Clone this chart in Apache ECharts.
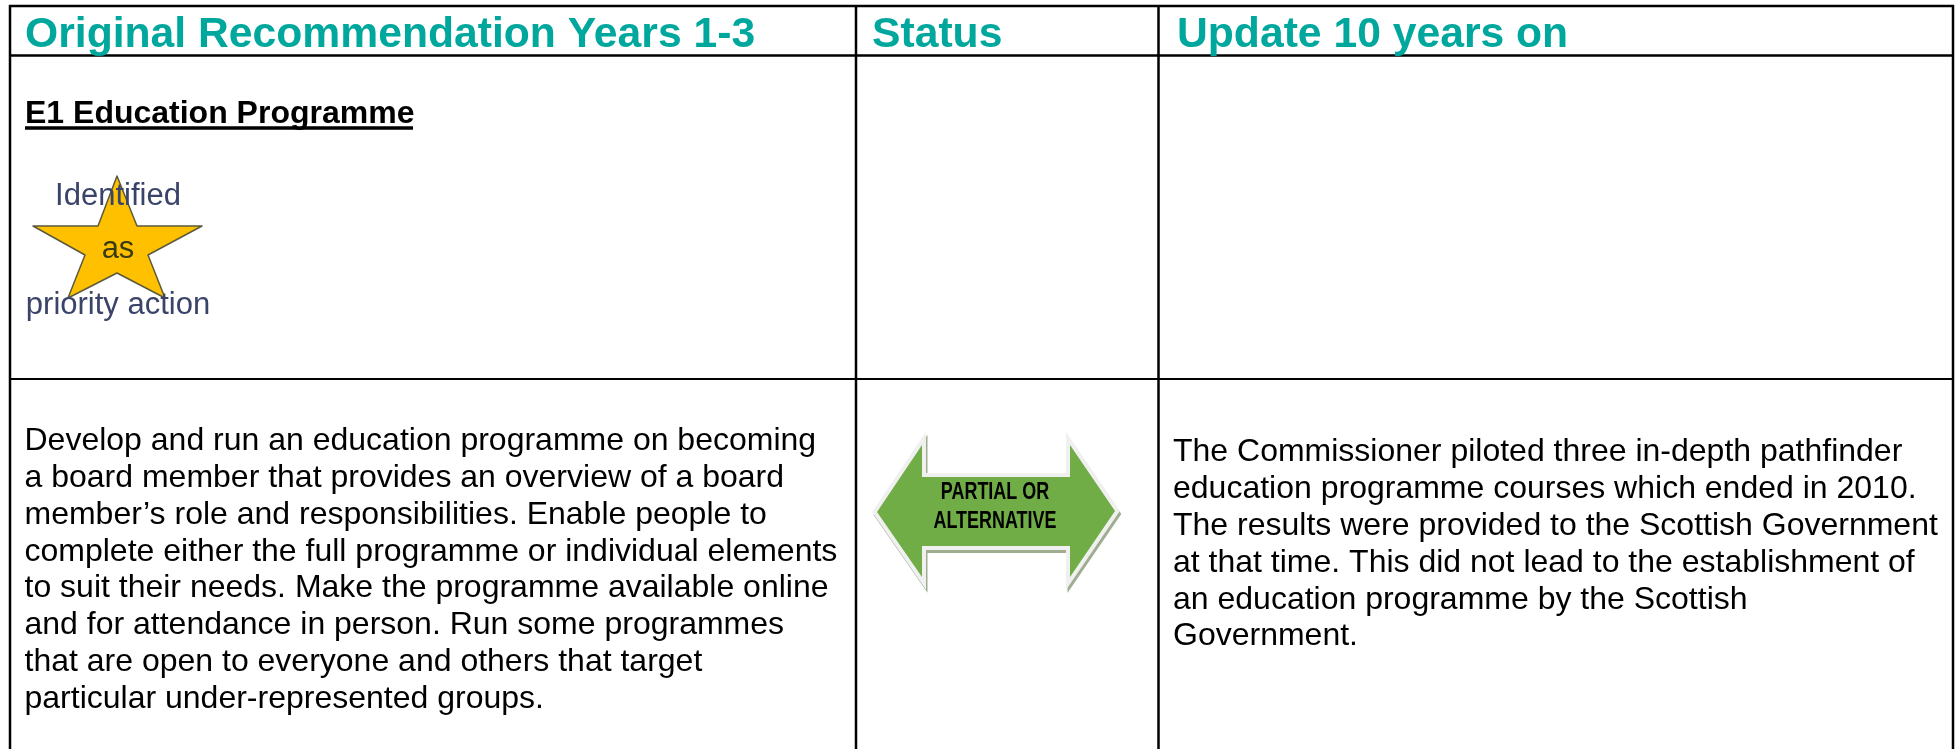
<!DOCTYPE html>
<html><head><meta charset="utf-8">
<style>html,body{margin:0;padding:0;background:#fff}#c{width:1957px;height:749px}</style>
<script src="https://cdn.jsdelivr.net/npm/echarts@6/dist/echarts.min.js"></script>
</head><body><div id="c"></div>
<script>
const headers = ['Original Recommendation Years 1-3', 'Status', 'Update 10 years on'];
const recommendationTitle = 'E1 Education Programme';
const badgeLines = ['Identified', 'as', 'priority action'];
const statusLines = ['PARTIAL OR', 'ALTERNATIVE'];
const recommendationLines = [
  'Develop and run an education programme on becoming',
  'a board member that provides an overview of a board',
  'member\u2019s role and responsibilities. Enable people to',
  'complete either the full programme or individual elements',
  'to suit their needs. Make the programme available online',
  'and for attendance in person. Run some programmes',
  'that are open to everyone and others that target',
  'particular under-represented groups.'
];
const updateLines = [
  'The Commissioner piloted three in-depth pathfinder',
  'education programme courses which ended in 2010.',
  'The results were provided to the Scottish Government',
  'at that time. This did not lead to the establishment of',
  'an education programme by the Scottish',
  'Government.'
];
const FONT = '"Liberation Sans", Arial, sans-serif';
const chart = echarts.init(document.getElementById('c'), null, {renderer:'canvas'});
const els = [];
function line(x1,y1,x2,y2,w){els.push({type:'line',z:3,shape:{x1,y1,x2,y2},style:{stroke:'#000',lineWidth:w||2}});}
function text(t,x,y,size,opt){opt=opt||{};els.push({type:'text',x,y,z:opt.z||5,scaleX:opt.scaleX||1,style:{text:t,x:0,y:0,font:(opt.weight||'normal')+' '+size+'px '+FONT,fill:opt.fill||'#000',textAlign:opt.align||'left',textVerticalAlign:'middle',shadowBlur:opt.blur||0,shadowColor:opt.fill||'#000'}});}
// table rules
line(9,6,1954,6,2.5);line(9,55.5,1954,55.5,2.5);line(9,379,1954,379,2);
line(10,5,10,749,2.5);line(856,5,856,749,2.5);line(1158.5,5,1158.5,749,2.5);line(1953,5,1953,749,2.5);
// headers
[25,872,1177].forEach((x,i)=>text(headers[i],x,35,42.67,{weight:'bold',fill:'#00a79d'}));
// title
text(recommendationTitle,25,114,32,{weight:'bold'});
line(25,128,413,128,3.5);
// star
const starPts=[[117,176],[137,226],[202,226],[148,255],[165,298],[117,273],[68,298],[85,255],[33,226],[98,226]];
els.push({type:'polygon',z:2,shape:{points:starPts},style:{fill:'#ffc000',stroke:'#5a5a3c',lineWidth:1.5,lineJoin:'round'}});
text(badgeLines[0],118,196,31,{align:'center',fill:'#3a4468',blur:2});
text(badgeLines[1],118,249,31,{align:'center',fill:'#3a3a14',blur:2});
text(badgeLines[2],118,305,31,{align:'center',fill:'#3a4468',blur:2});
// arrow
const arrowPts=[[877,512],[922,445],[922,477],[1070,477],[1070,445],[1115,511],[1070,577],[1070,546],[922,546],[922,577]];
els.push({type:'polygon',z:1,shape:{points:arrowPts.map(p=>[p[0]+1.5,p[1]+3])},style:{fill:'#9fae90',stroke:'#9fae90',lineWidth:8,lineJoin:'miter',miterLimit:10}});
els.push({type:'polygon',z:1,shape:{points:arrowPts},style:{fill:'#f0f0f0',stroke:'#f0f0f0',lineWidth:8,lineJoin:'miter',miterLimit:10}});
els.push({type:'polygon',z:2,shape:{points:arrowPts},style:{fill:'#70ad47'}});
text(statusLines[0],995,493,23,{align:'center',weight:'bold',scaleX:.78});
text(statusLines[1],995,522,23,{align:'center',weight:'bold',scaleX:.78});
// body text
recommendationLines.forEach((t,i)=>text(t,24.5,441+i*36.9,32));
updateLines.forEach((t,i)=>text(t,1173,452.5+i*36.8,32));
chart.setOption({animation:false,backgroundColor:'#fff',graphic:{elements:els}});
</script></body></html>
